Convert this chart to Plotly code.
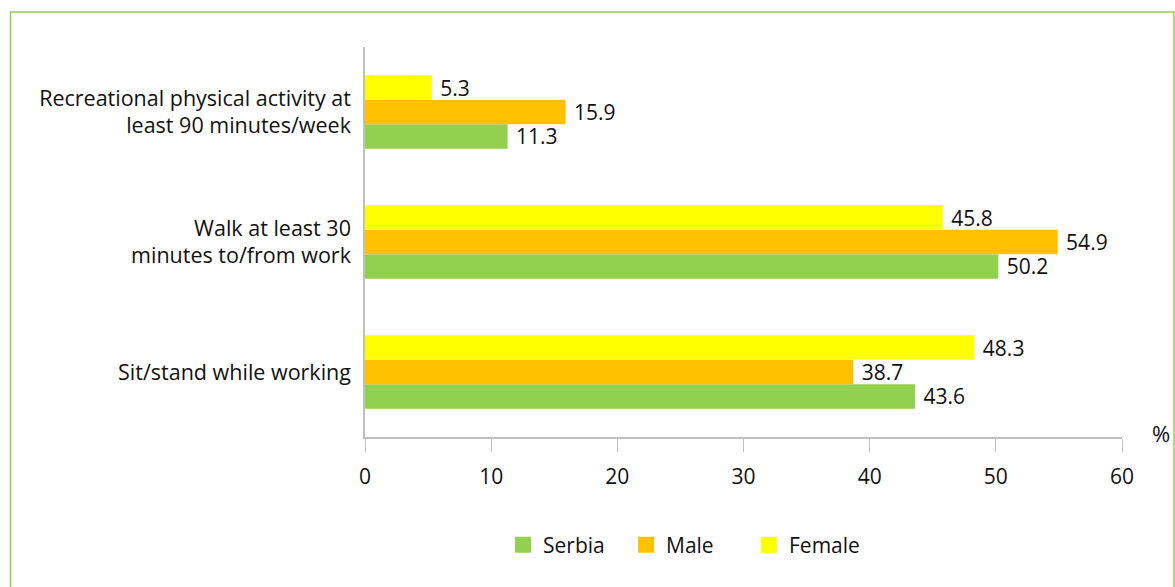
import plotly.graph_objects as go

categories = [
    "Sit/stand while working",
    "Walk at least 30<br>minutes to/from work",
    "Recreational physical activity at<br>least 90 minutes/week",
]
serbia = [43.6, 50.2, 11.3]
male = [38.7, 54.9, 15.9]
female = [48.3, 45.8, 5.3]
series_names = ["Serbia", "Male", "Female"]
series_colors = ["#92D050", "#FFC000", "#FFFF00"]
x_ticks = [0, 10, 20, 30, 40, 50, 60]

W, H = 1175, 587
ML, MR, MT, MB = 365, 53, 47, 150
PW, PH = W - ML - MR, H - MT - MB
FONT = "Open Sans"
TXT = "#111111"

fig = go.Figure()
for name, vals, col in zip(series_names, [serbia, male, female], series_colors):
    fig.add_trace(go.Bar(
        y=categories, x=vals, orientation="h", name=name,
        marker=dict(color=col, line=dict(width=0)),
        text=vals, texttemplate="\u00a0%{x:.1f}", textposition="outside",
        constraintext="none",
        textfont=dict(family=FONT, size=21, color=TXT),
        cliponaxis=False, showlegend=False,
    ))
for name, col in zip(series_names, series_colors):
    fig.add_trace(go.Scatter(
        x=[None], y=[None], mode="markers", name=name,
        marker=dict(symbol="square", size=17, color=col),
    ))

def px_x(p):
    return (p - ML) / PW

def px_y(p):
    return (H - MB - p) / PH

fig.update_layout(
    width=W, height=H,
    margin=dict(l=ML, r=MR, t=MT, b=MB, pad=0),
    paper_bgcolor="white", plot_bgcolor="white",
    barmode="group", bargap=0.435, bargroupgap=0,
    font=dict(family=FONT, size=21, color=TXT),
    xaxis=dict(
        range=[0, 60], tickvals=x_ticks, ticks="outside", ticklen=13,
        tickcolor="#BFBFBF", showline=True, linecolor="#BFBFBF", linewidth=1.5,
        showgrid=False, zeroline=False, ticklabelstandoff=7,
        tickfont=dict(family=FONT, size=21, color=TXT),
    ),
    yaxis=dict(
        showline=True, linecolor="#BFBFBF", linewidth=1.5, showgrid=False,
        ticks="", ticklabelstandoff=8,
        tickfont=dict(family=FONT, size=21.5, color=TXT),
    ),
    legend=dict(
        orientation="h", x=px_x(503), xanchor="left", y=px_y(545), yanchor="middle",
        font=dict(family=FONT, size=21, color=TXT),
        entrywidth=78, bgcolor="rgba(0,0,0,0)",
    ),
    shapes=[dict(
        type="rect", xref="paper", yref="paper",
        x0=px_x(10.5), x1=px_x(1174), y0=px_y(600), y1=px_y(12),
        line=dict(color="#92D050", width=1.5), fillcolor="rgba(0,0,0,0)",
    )],
    annotations=[dict(
        text="%", xref="paper", yref="paper", x=px_x(1161), y=px_y(433),
        xanchor="center", yanchor="middle", showarrow=False,
        font=dict(family=FONT, size=22, color=TXT),
    )],
)

fig.write_html(
    "out.html",
    config={"displayModeBar": False},
    post_script="document.body.style.margin='0';document.body.style.overflow='hidden';",
)
